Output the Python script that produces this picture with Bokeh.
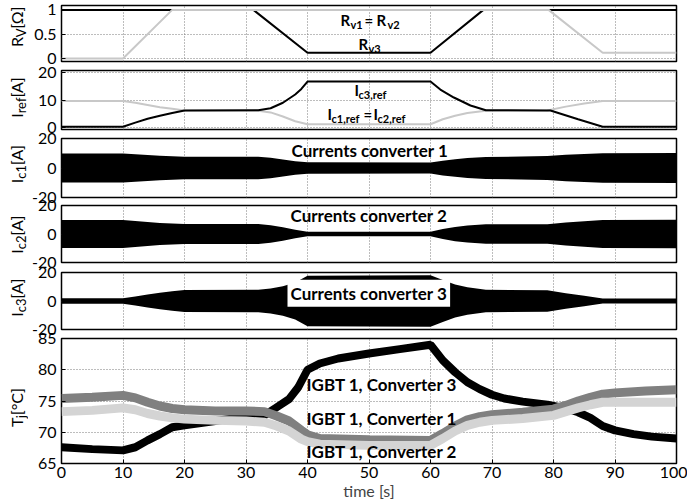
import math
from bokeh.plotting import figure
from bokeh.models import Label, Grid, FixedTicker, Range1d, CustomJSTickFormatter
from bokeh.layouts import column, row
from bokeh.embed import file_html
from bokeh.resources import INLINE

FONT = "Lato"

# ---------------- data ----------------
x_ticks = [0, 10, 20, 30, 40, 50, 60, 70, 80, 90, 100]

# Panel 1: variable resistances
rv3_t = [0, 31.2, 40, 60, 68.6, 100]
rv3_v = [1.0, 1.0, 0.12, 0.12, 1.0, 1.0]
rv12_t = [0, 10, 18, 79.2, 88, 100]
rv12_v = [0.0, 0.0, 1.0, 1.0, 0.12, 0.12]

# Panel 2: reference currents
ic3ref_t = [0, 10, 12, 14, 16, 18, 20, 32, 34, 36, 38, 39, 40, 60, 61.6, 63.8, 66.5, 69, 79.5, 84, 88, 100]
ic3ref_v = [0.3, 0.3, 1.8, 3.2, 4.3, 5.3, 6.2, 6.3, 7.0, 9.0, 12.0, 14.0, 16.7, 16.7, 13.8, 10.9, 8.0, 6.3, 6.2, 3.0, 0.3, 0.3]
ic12ref_t = [0, 10, 12, 14, 16, 18, 20, 32, 34, 36, 38, 40, 60, 62, 64, 66, 69, 79, 82, 85, 88, 100]
ic12ref_v = [9.6, 9.6, 9.0, 8.2, 7.4, 6.8, 6.2, 6.1, 5.5, 4.0, 2.3, 1.2, 1.2, 3.0, 4.3, 5.3, 6.1, 6.2, 7.6, 8.7, 9.6, 9.6]

# Panels 3-5: current envelopes (amplitude of the fast sine)
ic_t = [0, 10, 12, 14, 16, 18, 20, 32, 34, 36, 38, 40, 60, 62, 64, 66, 69, 79, 82, 85, 88, 100]
ic1_amp = [9.8, 9.8, 9.3, 8.8, 8.3, 7.9, 7.7, 7.6, 6.9, 5.7, 4.6, 3.9, 3.8, 5.0, 6.0, 6.8, 7.4, 8.1, 8.9, 9.5, 10.0, 10.1]
ic2_amp = [9.8, 9.8, 9.1, 8.4, 7.8, 7.4, 7.1, 7.1, 6.2, 4.8, 3.0, 1.6, 1.5, 3.5, 5.0, 6.0, 6.8, 6.9, 8.0, 9.0, 9.9, 10.0]
ic3_amp = [1.9, 1.9, 3.2, 4.6, 5.8, 6.9, 7.8, 7.9, 8.8, 10.3, 13.0, 17.8, 18.0, 14.8, 11.6, 9.6, 7.9, 7.6, 5.5, 3.6, 1.8, 1.7]

# Panel 6: junction temperatures
tj3_t = [0, 5, 10, 12, 14, 16, 18, 20, 25, 30, 33, 35, 37, 38.5, 40, 42, 45, 50, 55, 60, 62, 64, 66, 68, 70, 72, 75, 79, 82, 84, 86, 88, 90, 93, 96, 100]
tj3_v = [67.6, 67.3, 67.1, 67.6, 68.7, 69.7, 70.8, 71.1, 71.8, 72.5, 72.7, 74.0, 75.3, 77.2, 80.0, 81.0, 81.8, 82.6, 83.3, 84.0, 81.5, 79.6, 78.0, 76.9, 76.0, 75.4, 74.9, 74.4, 73.8, 73.2, 72.3, 71.0, 70.3, 69.7, 69.3, 69.0]
tj1_t = [0, 5, 10, 12, 14, 16, 18, 20, 25, 30, 33, 35, 37, 39, 40, 42, 50, 60, 62, 64, 66, 68, 70, 75, 80, 82, 84, 86, 88, 90, 95, 100]
tj1_v = [75.4, 75.6, 75.9, 75.5, 74.8, 74.2, 73.8, 73.6, 73.4, 73.4, 73.3, 72.6, 71.8, 70.3, 69.6, 69.0, 68.8, 68.7, 69.8, 71.0, 72.0, 72.5, 72.8, 73.2, 73.7, 74.3, 75.0, 75.6, 76.1, 76.3, 76.6, 76.8]
tj2_t = [0, 5, 10, 12, 14, 16, 18, 20, 25, 30, 33, 35, 37, 39, 40, 42, 50, 60, 62, 64, 66, 68, 70, 75, 80, 82, 84, 86, 88, 100]
tj2_v = [73.3, 73.5, 73.9, 73.6, 73.0, 72.6, 72.3, 72.1, 71.9, 71.8, 71.6, 71.0, 70.2, 68.9, 68.5, 68.1, 67.9, 67.9, 69.0, 70.2, 71.1, 71.6, 71.9, 72.2, 72.7, 73.3, 73.9, 74.4, 74.8, 74.8]

# ---------------- helpers ----------------
PAGE_H = 504
FRAME_LEFT = 61
LAB_W = 28
EXTRA = 10      # extra canvas above/below each panel, overlapped by negative margins
BASE_K = 0.37   # empirical shift of Bokeh's alphabetic baseline
W_EM = {"R": .60, "V": .66, "Ω": .76, "[": .30, "]": .30, "I": .28, "r": .37, "e": .52,
        "f": .33, "A": .67, "c": .46, "1": .58, "2": .58, "3": .58, "T": .55, "j": .24,
        "°": .38, "C": .66}


def twidth(s, size):
    return sum(W_EM.get(ch, .55) for ch in s) * size


def make_fig(frame_h, yr, yticks, top, bottom, first=False, show_x=False):
    p = figure(frame_width=615, frame_height=frame_h,
               x_range=Range1d(0, 100), y_range=Range1d(*yr),
               min_border_left=FRAME_LEFT - LAB_W, min_border_right=11,
               min_border_top=top, min_border_bottom=bottom,
               x_axis_location="below" if show_x else None,
               output_backend="svg", toolbar_location=None,
               background_fill_color="white", border_fill_color=None,
               margin=(0 if first else -2 * EXTRA, 0, 0, 0))
    p.outline_line_color = "black"
    p.outline_line_width = 1.5
    p.grid.visible = False
    p.add_layout(Grid(dimension=0, ticker=FixedTicker(ticks=x_ticks[1:-1]),
                      grid_line_color="#7a7a7a", grid_line_dash="1 2", grid_line_width=1))
    p.add_layout(Grid(dimension=1, ticker=FixedTicker(ticks=yticks),
                      grid_line_color="#7a7a7a", grid_line_dash="1 2", grid_line_width=1))
    ya = p.yaxis[0]
    ya.ticker = FixedTicker(ticks=yticks)
    ya.formatter = CustomJSTickFormatter(code="return String(tick)")
    ya.axis_line_color = None
    ya.major_tick_in = 4
    ya.major_tick_out = 0
    ya.minor_tick_line_color = None
    ya.major_label_standoff = 5
    ya.major_label_text_font = FONT
    ya.major_label_text_font_size = "16px"
    ya.major_label_text_color = "black"
    if show_x:
        xa = p.xaxis[0]
        xa.ticker = FixedTicker(ticks=x_ticks)
        xa.axis_line_color = None
        xa.major_tick_in = 4
        xa.major_tick_out = 0
        xa.minor_tick_line_color = None
        xa.major_label_standoff = 3
        xa.major_label_text_font = FONT
        xa.major_label_text_font_size = "16px"
        xa.major_label_text_color = "black"
        xa.axis_label = "time [s]"
        xa.axis_label_text_font = FONT
        xa.axis_label_text_font_size = "16px"
        xa.axis_label_text_font_style = "normal"
        xa.axis_label_standoff = 0
    return p


# one tall narrow figure holding every rotated, subscripted y-axis title
lab = figure(width=LAB_W, height=PAGE_H, x_range=Range1d(0, LAB_W), y_range=Range1d(0, PAGE_H),
             min_border=0, x_axis_location=None, y_axis_location=None,
             output_backend="svg", toolbar_location=None,
             background_fill_color="white", border_fill_color="white")
lab.outline_line_color = None
lab.grid.visible = False


def ytitle(page_cy, pieces):
    total = sum(twidth(t, s) for t, s, _ in pieces)
    y = (PAGE_H - page_cy) - total / 2
    for t, s, sub in pieces:
        bx = (25 if sub else 22) - BASE_K * s
        lab.add_layout(Label(x=bx, y=y, angle=math.pi / 2, text=t,
                             text_font=FONT, text_font_size=f"{s}px",
                             text_align="left", text_baseline="alphabetic", text_color="black"))
        y += twidth(t, s)


def note(p, frame_bottom, px, py, text, size, bg=None):
    kw = {}
    if bg:
        kw = dict(background_fill_color=bg, padding=3)
    p.add_layout(Label(x=px - FRAME_LEFT, y=frame_bottom - py + BASE_K * size,
                       x_units="screen", y_units="screen",
                       text=text, text_font=FONT, text_font_style="bold", text_font_size=f"{size}px",
                       text_align="left", text_baseline="alphabetic", text_color="black", **kw))


# ---------------- panel 1 ----------------
p1 = make_fig(56, (-0.06, 1.09), [0, 0.5, 1], 5, 4 + EXTRA, first=True)
p1.line(rv3_t, rv3_v, line_color="black", line_width=2)
p1.line(rv12_t, rv12_v, line_color="#c8c8c8", line_width=2)
B1 = 61
note(p1, B1, 340, 25, "R", 15)
note(p1, B1, 350, 28, "v1", 11)
note(p1, B1, 364, 25, "=", 15)
note(p1, B1, 376, 25, "R", 15)
note(p1, B1, 387, 28, "v2", 11)
note(p1, B1, 358, 49, "R", 15)
note(p1, B1, 368, 52, "v3", 11)
ytitle(26.5, [("R", 16, False), ("V", 13, True), ("[Ω]", 16, False)])

# ---------------- panel 2 ----------------
p2 = make_fig(59, (-0.7, 20.7), [0, 10, 20], 5 + EXTRA, 4 + EXTRA)
p2.line(ic12ref_t, ic12ref_v, line_color="#c8c8c8", line_width=2)
p2.line(ic3ref_t, ic3ref_v, line_color="black", line_width=2)
B2 = 129
note(p2, B2, 354, 95, "I", 15)
note(p2, B2, 358, 98, "c3,ref", 11)
note(p2, B2, 327, 119, "I", 15)
note(p2, B2, 331, 122, "c1,ref", 11)
note(p2, B2, 363, 119, "=", 15)
note(p2, B2, 373, 119, "I", 15)
note(p2, B2, 377, 122, "c2,ref", 11)
ytitle(97, [("I", 16, False), ("ref", 13, True), ("[A]", 16, False)])

# ---------------- panels 3-5 ----------------
def current_panel(frame_h, amp, top, bottom):
    p = make_fig(frame_h, (-20, 20), [-20, 0, 20], top, bottom)
    p.varea(x=ic_t, y1=[-a for a in amp], y2=amp, fill_color="black")
    return p


p3 = current_panel(59, ic1_amp, 5 + EXTRA, 4 + EXTRA)
note(p3, 197, 291, 156, "Currents converter 1", 17)
ytitle(163.5, [("I", 16, False), ("c1", 13, True), ("[A]", 16, False)])

p4 = current_panel(57, ic2_amp, 4 + EXTRA, 5 + EXTRA)
note(p4, 262, 290, 221, "Currents converter 2", 17)
ytitle(234, [("I", 16, False), ("c2", 13, True), ("[A]", 16, False)])

p5 = current_panel(57, ic3_amp, 5 + EXTRA, 4 + EXTRA)
note(p5, 329, 287, 299, "Currents converter 3", 17, bg="white")
ytitle(297, [("I", 16, False), ("c3", 13, True), ("[A]", 16, False)])

# ---------------- panel 6 ----------------
p6 = make_fig(125, (65, 85), [65, 70, 75, 80, 85], 5 + EXTRA, 41, show_x=True)
p6.line(tj3_t, tj3_v, line_color="black", line_width=8)
p6.line(tj1_t, tj1_v, line_color="#808080", line_width=9)
p6.line(tj2_t, tj2_v, line_color="#d4d4d4", line_width=9)
B6 = 463
note(p6, B6, 306, 390, "IGBT 1, Converter 3", 17)
note(p6, B6, 306, 424, "IGBT 1, Converter 1", 17)
note(p6, B6, 306, 457, "IGBT 1, Converter 2", 17)
ytitle(407.5, [("T", 16, False), ("j", 13, True), ("[°C]", 16, False)])

layout = row(lab, column(p1, p2, p3, p4, p5, p6, spacing=0), spacing=0)
open("out.html", "w").write(file_html(layout, INLINE))
